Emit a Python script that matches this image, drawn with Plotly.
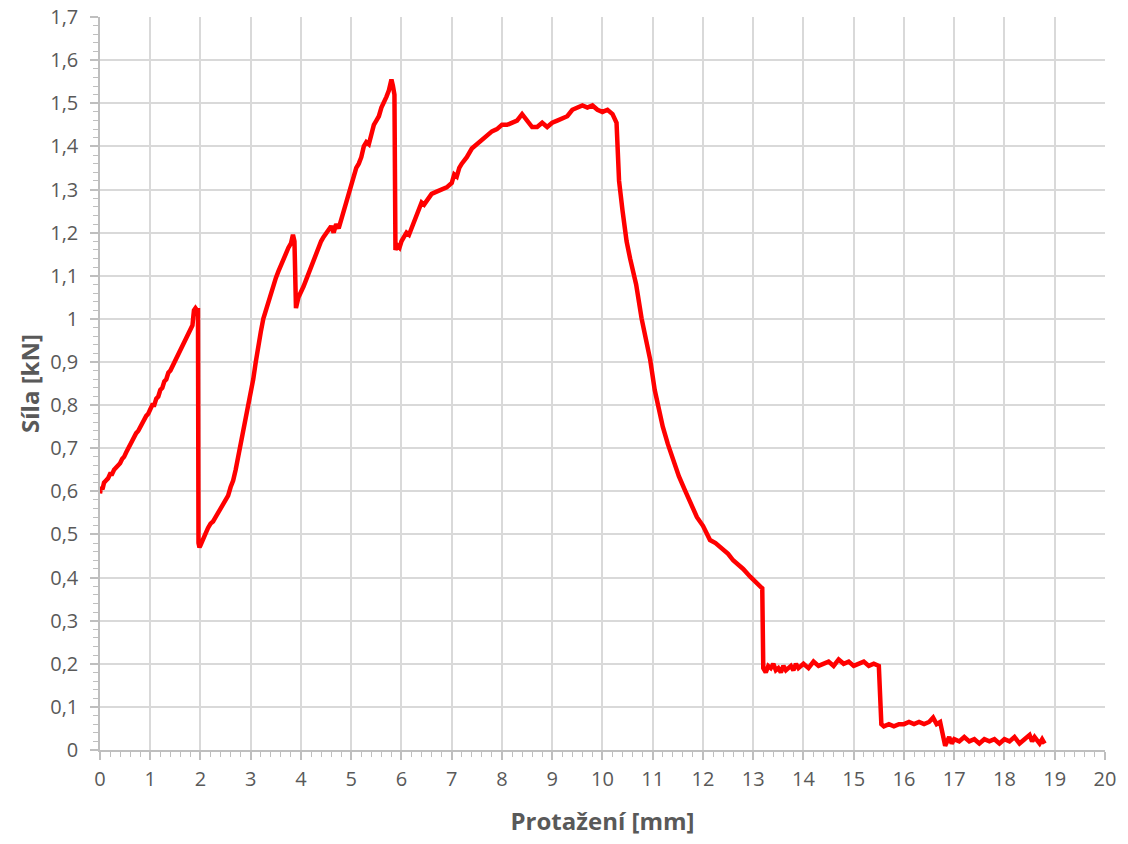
import plotly.graph_objects as go

# ---- data ----
elong = [
    0.00, 0.02, 0.05, 0.08, 0.12, 0.16, 0.20, 0.24, 0.28, 0.32, 0.36, 0.40, 0.44, 0.48, 0.52, 0.56,
    0.60, 0.64, 0.68, 0.72, 0.76, 0.80, 0.84, 0.88, 0.92, 0.96, 1.00, 1.04, 1.08, 1.12, 1.16, 1.20,
    1.24, 1.28, 1.32, 1.36, 1.40, 1.44, 1.48, 1.52, 1.56, 1.60, 1.64, 1.68, 1.72, 1.76, 1.80, 1.84,
    1.87, 1.90, 1.93, 1.95, 1.96, 1.98, 2.00,
    2.05, 2.10, 2.15, 2.20, 2.25, 2.30, 2.35, 2.40, 2.45, 2.50, 2.55, 2.60, 2.65, 2.70, 2.75, 2.80,
    2.85, 2.90, 2.95, 3.00, 3.05, 3.10, 3.15, 3.20, 3.25, 3.30, 3.35, 3.40, 3.45, 3.50, 3.55, 3.60,
    3.65, 3.70, 3.75, 3.80, 3.84, 3.87, 3.90,
    3.95, 4.00, 4.05, 4.10, 4.15, 4.20, 4.25, 4.30, 4.35, 4.40, 4.45, 4.50, 4.55, 4.60, 4.65, 4.70,
    4.75, 4.80, 4.85, 4.90, 4.95, 5.00, 5.05, 5.10, 5.15, 5.20, 5.25, 5.30, 5.35, 5.40, 5.45, 5.50,
    5.55, 5.60, 5.65, 5.70, 5.75, 5.80, 5.83, 5.86, 5.88,
    5.92, 5.96, 6.00, 6.05, 6.10, 6.15, 6.20, 6.25, 6.30, 6.35, 6.40, 6.45, 6.50, 6.55, 6.60, 6.70,
    6.80, 6.90, 7.00, 7.05, 7.10, 7.15, 7.20, 7.30, 7.40, 7.50, 7.60, 7.70, 7.80, 7.90, 8.00, 8.10,
    8.20, 8.30, 8.40, 8.50, 8.60, 8.70, 8.80, 8.90, 9.00, 9.10, 9.20, 9.30, 9.40, 9.50, 9.60, 9.70,
    9.80, 9.90, 10.00, 10.10, 10.20, 10.28,
    10.33, 10.40, 10.48, 10.55, 10.67, 10.78, 10.95, 11.04, 11.20, 11.30, 11.40, 11.52, 11.64, 11.76,
    11.88, 12.00, 12.14, 12.25, 12.40, 12.50, 12.60, 12.68, 12.80, 12.94, 13.05, 13.13, 13.18,
    13.20, 13.25, 13.30, 13.35, 13.40, 13.45, 13.50, 13.55, 13.60, 13.65, 13.70, 13.75, 13.80, 13.85,
    13.90, 13.95, 14.00, 14.10, 14.20, 14.30, 14.40, 14.50, 14.60, 14.70, 14.80, 14.90, 15.00, 15.10,
    15.20, 15.30, 15.40, 15.50, 15.53,
    15.55, 15.60, 15.70, 15.80, 15.90, 16.00, 16.10, 16.20, 16.30, 16.40, 16.50, 16.58, 16.65, 16.72,
    16.78, 16.82, 16.90, 16.95, 17.00, 17.10, 17.20, 17.30, 17.40, 17.50, 17.60, 17.70, 17.80, 17.90,
    18.00, 18.10, 18.20, 18.30, 18.40, 18.50, 18.55, 18.60, 18.70, 18.75, 18.80,
]
force = [
    0.595, 0.610, 0.605, 0.620, 0.625, 0.630, 0.640, 0.640, 0.650, 0.655, 0.660, 0.665, 0.675, 0.680, 0.690, 0.700,
    0.710, 0.720, 0.725, 0.735, 0.740, 0.750, 0.760, 0.765, 0.775, 0.780, 0.790, 0.800, 0.800, 0.815, 0.820, 0.835,
    0.840, 0.855, 0.860, 0.875, 0.880, 0.890, 0.900, 0.905, 0.920, 0.925, 0.940, 0.945, 0.955, 0.965, 0.975, 0.985,
    1.020, 1.025, 1.020, 1.020, 0.480, 0.470, 0.475,
    0.490, 0.500, 0.515, 0.525, 0.530, 0.540, 0.550, 0.555, 0.570, 0.575, 0.590, 0.610, 0.625, 0.650, 0.680, 0.710,
    0.735, 0.760, 0.790, 0.820, 0.860, 0.900, 0.940, 0.970, 1.000, 1.020, 1.040, 1.055, 1.075, 1.095, 1.110, 1.125,
    1.140, 1.150, 1.165, 1.175, 1.195, 1.180, 1.025,
    1.050, 1.060, 1.075, 1.090, 1.105, 1.120, 1.140, 1.155, 1.165, 1.180, 1.190, 1.200, 1.210, 1.215, 1.200, 1.220,
    1.210, 1.230, 1.250, 1.270, 1.290, 1.310, 1.330, 1.350, 1.360, 1.375, 1.400, 1.410, 1.405, 1.430, 1.450, 1.460,
    1.470, 1.490, 1.500, 1.515, 1.530, 1.555, 1.540, 1.520, 1.160,
    1.170, 1.165, 1.180, 1.190, 1.200, 1.195, 1.210, 1.220, 1.235, 1.250, 1.270, 1.265, 1.275, 1.280, 1.290, 1.295,
    1.300, 1.305, 1.315, 1.335, 1.330, 1.350, 1.360, 1.375, 1.395, 1.405, 1.415, 1.425, 1.435, 1.440, 1.450, 1.450,
    1.455, 1.460, 1.475, 1.460, 1.445, 1.445, 1.455, 1.445, 1.455, 1.460, 1.465, 1.470, 1.485, 1.490, 1.495, 1.490,
    1.495, 1.485, 1.480, 1.485, 1.475, 1.455,
    1.320, 1.250, 1.180, 1.140, 1.080, 1.000, 0.905, 0.835, 0.750, 0.710, 0.672, 0.635, 0.603, 0.570,
    0.540, 0.520, 0.487, 0.480, 0.464, 0.455, 0.440, 0.433, 0.420, 0.402, 0.390, 0.378, 0.375,
    0.190, 0.180, 0.195, 0.190, 0.200, 0.185, 0.190, 0.180, 0.195, 0.185, 0.190, 0.195, 0.185, 0.200,
    0.190, 0.195, 0.200, 0.190, 0.205, 0.195, 0.200, 0.205, 0.195, 0.210, 0.200, 0.205, 0.195, 0.200,
    0.205, 0.195, 0.200, 0.195, 0.060,
    0.060, 0.055, 0.060, 0.055, 0.060, 0.060, 0.065, 0.060, 0.065, 0.060, 0.065, 0.075, 0.060, 0.065,
    0.030, 0.010, 0.030, 0.015, 0.025, 0.020, 0.030, 0.020, 0.025, 0.015, 0.025, 0.020, 0.025, 0.015,
    0.025, 0.020, 0.030, 0.015, 0.025, 0.035, 0.020, 0.030, 0.015, 0.025, 0.015,
]

x_tick_vals = list(range(0, 21))
x_tick_text = [str(v) for v in x_tick_vals]
y_tick_vals = [0, 0.1, 0.2, 0.3, 0.4, 0.5, 0.6, 0.7, 0.8, 0.9, 1.0, 1.1, 1.2, 1.3, 1.4, 1.5, 1.6, 1.7]
y_tick_text = ["0", "0,1", "0,2", "0,3", "0,4", "0,5", "0,6", "0,7", "0,8", "0,9", "1",
               "1,1", "1,2", "1,3", "1,4", "1,5", "1,6", "1,7"]

x_title = "Protažení [mm]"
y_title = "Síla [kN]"

# ---- figure ----
grid_col = "#d9d9d9"
axis_col = "#bfbfbf"
text_col = "#595959"
font_family = "Open Sans, Liberation Sans, sans-serif"

fig = go.Figure()
fig.add_trace(go.Scatter(
    x=elong, y=force, mode="lines",
    line=dict(color="#ff0000", width=4.5),
    showlegend=False, hoverinfo="skip",
))

fig.update_layout(
    width=1128, height=844,
    margin=dict(l=100, r=23, t=17, b=94),
    paper_bgcolor="white", plot_bgcolor="white",
    font=dict(family=font_family, color=text_col),
    showlegend=False,
)

fig.update_xaxes(
    range=[0, 20.001], tickvals=x_tick_vals, ticktext=x_tick_text,
    automargin=False,
    showgrid=True, gridcolor=grid_col, gridwidth=1.5,
    showline=True, linecolor=axis_col, linewidth=1.5,
    ticks="outside", ticklen=8, tickcolor=axis_col, tickwidth=1.5,
    minor=dict(dtick=0.2, ticks="outside", ticklen=5, tickcolor=axis_col, tickwidth=1.2, showgrid=False),
    tickfont=dict(size=20, color=text_col, family=font_family),
    ticklabelstandoff=2, ticklabeloverflow="allow",
    zeroline=False,
    title=dict(text=x_title, font=dict(size=24, color=text_col, family=font_family, weight="bold"), standoff=22),
)
fig.update_yaxes(
    range=[0, 1.7002], tickvals=y_tick_vals, ticktext=y_tick_text,
    automargin=False,
    showgrid=True, gridcolor=grid_col, gridwidth=1.5,
    showline=True, linecolor=axis_col, linewidth=1.5,
    ticks="outside", ticklen=8, tickcolor=axis_col, tickwidth=1.5,
    minor=dict(dtick=0.02, ticks="outside", ticklen=5, tickcolor=axis_col, tickwidth=1.2, showgrid=False),
    tickfont=dict(size=20, color=text_col, family=font_family),
    ticklabelstandoff=8, ticklabeloverflow="allow",
    zeroline=False,
    title=dict(text=y_title, font=dict(size=24, color=text_col, family=font_family, weight="bold"), standoff=4),
)

# remove the browser's default 8px body margin so the figure fills the window exactly
fig.write_html(
    "out.html",
    config={"displayModeBar": False},
    post_script="document.body.style.margin='0px';",
)
